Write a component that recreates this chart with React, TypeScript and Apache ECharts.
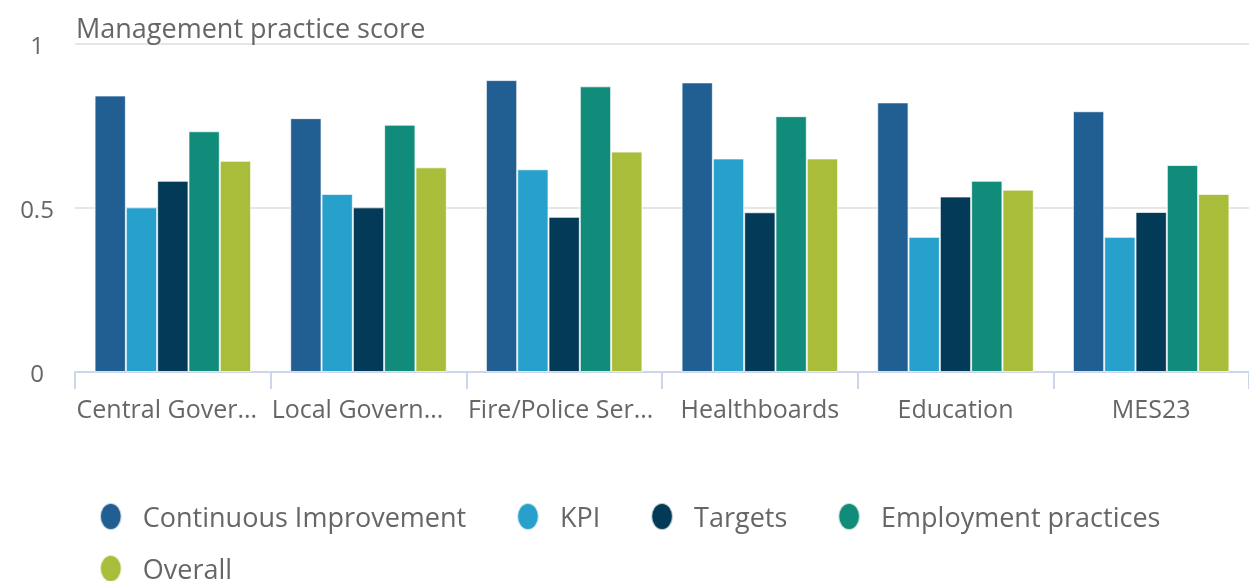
import React, { useEffect, useRef } from "react";
import * as echarts from "echarts";

const categories = [
  "Central Government",
  "Local Government",
  "Fire/Police Services",
  "Healthboards",
  "Education",
  "MES23",
];
const continuousImprovement = [0.843, 0.774, 0.89, 0.883, 0.822, 0.795];
const kpi = [0.502, 0.543, 0.618, 0.651, 0.412, 0.412];
const targets = [0.583, 0.502, 0.473, 0.487, 0.535, 0.488];
const employmentPractices = [0.734, 0.754, 0.871, 0.78, 0.583, 0.631];
const overall = [0.644, 0.624, 0.672, 0.651, 0.556, 0.543];
const yTicks = [0, 0.5, 1];

const seriesNames = [
  "Continuous Improvement",
  "KPI",
  "Targets",
  "Employment practices",
  "Overall",
];
const seriesData = [continuousImprovement, kpi, targets, employmentPractices, overall];
const colors = ["#215f93", "#28a0cc", "#033a57", "#128c7a", "#a9bd3b"];

const FONT = "'Open Sans', sans-serif";
const TEXT = "#666666";
const ELLIPSE = "path://M40 0A40 50 0 1 1 40 100A40 50 0 1 1 40 0Z";
// shift truncated labels slightly left (via right padding), as in the reference
const labelRightPad = [12, 22, 7, 0, 0, 0];

export default function App() {
  const ref = useRef<HTMLDivElement>(null);
  useEffect(() => {
    if (!ref.current) return;
    const chart = echarts.init(ref.current, undefined, { renderer: "svg" });
    const legendCommon = {
      orient: "horizontal",
      left: 99,
      right: 5,
      padding: 0,
      icon: ELLIPSE,
      itemWidth: 22,
      itemHeight: 27,
      itemGap: 50,
      textStyle: {
        fontFamily: FONT,
        fontSize: 27,
        color: TEXT,
        lineHeight: 27,
        padding: [0, 0, 0, 16],
      },
    };
    chart.setOption({
      animation: false,
      color: colors,
      textStyle: { fontFamily: FONT },
      grid: { left: 75, right: -4, top: 44, bottom: 209, containLabel: false },
      legend: [
        { ...legendCommon, top: 502, data: seriesNames.slice(0, 4) },
        { ...legendCommon, top: 554, data: seriesNames.slice(4) },
      ],
      xAxis: {
        type: "category",
        data: categories.map((c, i) => ({
          value: c,
          textStyle: { padding: [0, labelRightPad[i], 0, 0] },
        })),
        axisLine: { lineStyle: { color: "#ccd6eb", width: 2 } },
        axisTick: { show: true, length: 17, lineStyle: { color: "#ccd6eb", width: 2 } },
        axisLabel: {
          interval: 0,
          margin: 23,
          fontFamily: FONT,
          fontSize: 25,
          lineHeight: 25,
          color: TEXT,
          width: 190,
          overflow: "truncate",
          ellipsis: "...",
        },
      },
      yAxis: {
        type: "value",
        min: yTicks[0],
        max: yTicks[yTicks.length - 1],
        interval: yTicks[1] - yTicks[0],
        name: "Management practice score",
        nameLocation: "end",
        nameGap: 17,
        nameTextStyle: {
          fontFamily: FONT,
          fontSize: 27,
          color: TEXT,
          align: "left",
          verticalAlign: "middle",
          padding: [0, 0, 0, 1],
        },
        axisLine: { show: false },
        axisTick: { show: false },
        axisLabel: {
          margin: 38,
          align: "center",
          fontFamily: FONT,
          fontSize: 24,
          color: TEXT,
          padding: [6, 0, 0, 0],
        },
        splitLine: { lineStyle: { color: "#e6e6e6", width: 2 } },
      },
      series: seriesNames.map((name, i) => ({
        name,
        type: "bar",
        data: seriesData[i],
        barGap: "0%",
        barCategoryGap: "20%",
        itemStyle: { borderColor: "rgba(255,255,255,0.7)", borderWidth: 1 },
      })),
    });
    return () => chart.dispose();
  }, []);
  return (
    <div
      ref={ref}
      style={{ position: "fixed", left: 0, top: 0, width: 1249, height: 581 }}
    />
  );
}
